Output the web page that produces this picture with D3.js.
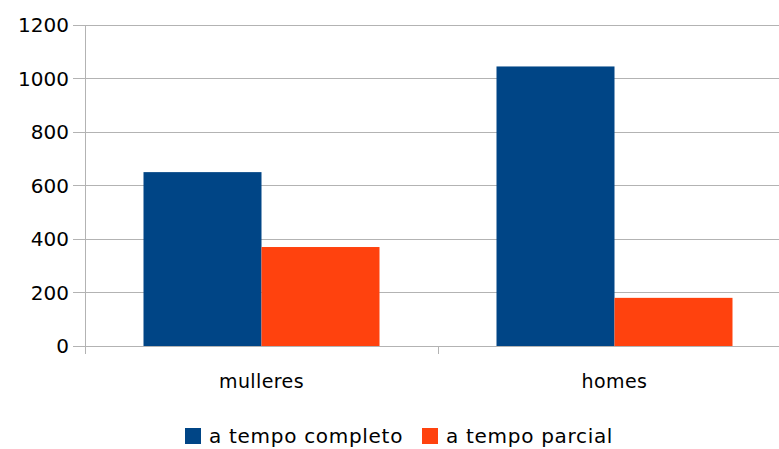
<!DOCTYPE html>
<html><head><meta charset="utf-8">
<script src="https://cdn.jsdelivr.net/npm/d3@7"></script>
<style>body{margin:0;background:#fff}svg{display:block}text{font-family:"DejaVu Sans",sans-serif;fill:#000}</style>
</head><body>
<script>
const categories = ["mulleres", "homes"];
const seriesNames = ["a tempo completo", "a tempo parcial"];
const fullTime = [650, 1045];
const partTime = [370, 180];
const yTicks = [0, 200, 400, 600, 800, 1000, 1200];
const colors = ["#004586", "#ff420e"];

const W = 779, H = 449;
const m = {left: 85, right: 791, top: 25, bottom: 346};
const svg = d3.select("body").append("svg").attr("width", W).attr("height", H);

const y = d3.scaleLinear().domain([0, 1200]).range([m.bottom, m.top]);
const x0 = d3.scaleBand().domain(categories).range([m.left, m.right]).paddingInner(0).paddingOuter(0);
const x1 = d3.scaleBand().domain(seriesNames).range([58.5, x0.bandwidth() - 58.5]);

// gridlines
svg.append("g").selectAll("line").data(yTicks).join("line")
  .attr("x1", m.left - 12).attr("x2", W).attr("y1", d => y(d)).attr("y2", d => y(d))
  .attr("stroke", "#b3b3b3").attr("stroke-width", 1).attr("shape-rendering", "crispEdges");

// y labels
svg.append("g").selectAll("text").data(yTicks).join("text")
  .attr("x", m.left - 16).attr("y", d => y(d)).attr("dy", "0.36em")
  .attr("text-anchor", "end").style("font-size", "20px").text(d => d);

// bars
const data = categories.map((c, i) => ({c, vals: [fullTime[i], partTime[i]]}));
const g = svg.append("g").selectAll("g").data(data).join("g")
  .attr("transform", d => `translate(${x0(d.c)},0)`);
g.selectAll("rect").data(d => d.vals.map((v, j) => ({s: seriesNames[j], v, j}))).join("rect")
  .attr("x", d => x1(d.s)).attr("width", x1.bandwidth())
  .attr("y", d => y(d.v)).attr("height", d => y(0) - y(d.v))
  .attr("fill", d => colors[d.j]);

// y axis line
svg.append("line").attr("x1", m.left).attr("x2", m.left).attr("y1", m.top).attr("y2", m.bottom + 8)
  .attr("stroke", "#b3b3b3").attr("shape-rendering", "crispEdges");
// category separator ticks
const seps = categories.map(c => x0(c)).concat([m.right]);
svg.append("g").selectAll("line").data(seps).join("line")
  .attr("x1", d => d).attr("x2", d => d).attr("y1", m.bottom).attr("y2", m.bottom + 8)
  .attr("stroke", "#b3b3b3").attr("shape-rendering", "crispEdges");

// category labels
svg.append("g").selectAll("text").data(categories).join("text")
  .attr("x", d => x0(d) + x0.bandwidth() / 2).attr("y", 388)
  .attr("text-anchor", "middle").style("font-size", "19px").style("letter-spacing", "0.4px").text(d => d);

// legend
const legend = [{x: 185, tx: 209}, {x: 422, tx: 446}];
const lg = svg.append("g").selectAll("g").data(seriesNames).join("g");
lg.append("rect").attr("x", (d, i) => legend[i].x).attr("y", 428).attr("width", 16).attr("height", 16)
  .attr("fill", (d, i) => colors[i]);
lg.append("text").attr("x", (d, i) => legend[i].tx).attr("y", 443)
  .style("font-size", "20px").style("letter-spacing", "0.7px").text(d => d);
</script>
</body></html>
